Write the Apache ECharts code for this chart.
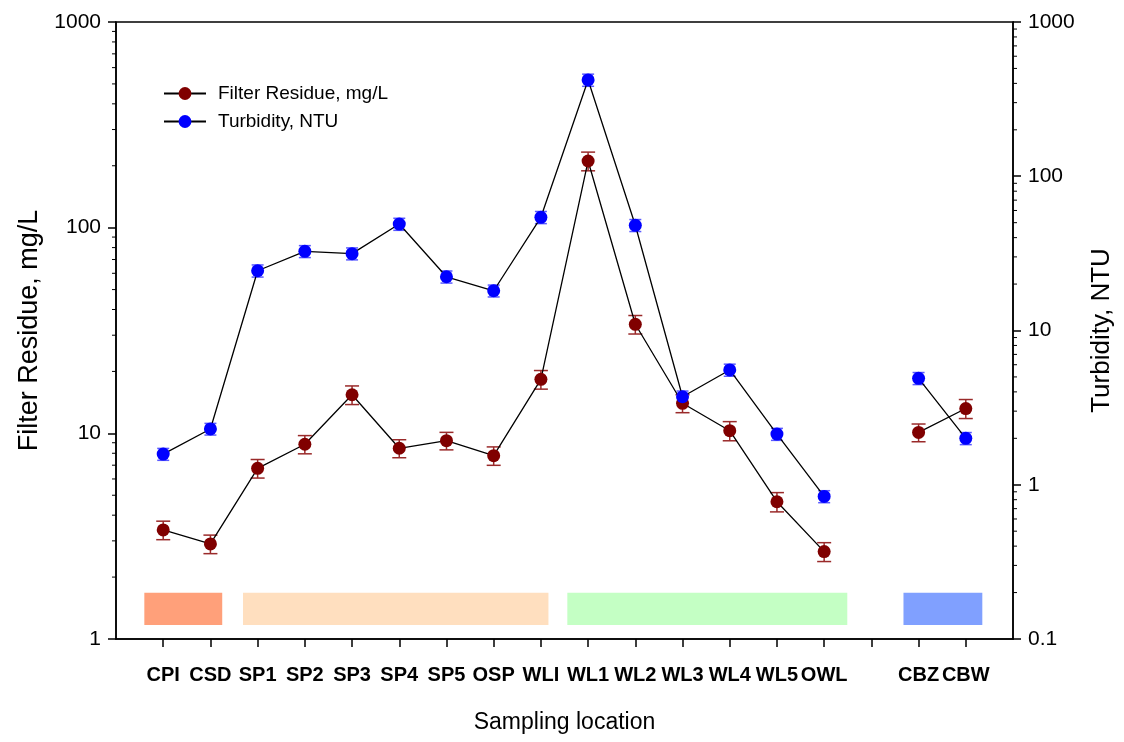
<!DOCTYPE html>
<html>
<head>
<meta charset="utf-8">
<script src="https://cdn.jsdelivr.net/npm/echarts@6/dist/echarts.min.js"></script>
<style>
  html, body { margin: 0; padding: 0; background: #fff; }
  #chart { width: 1124px; height: 742px; }
</style>
</head>
<body>
<div id="chart"></div>
<script>
// Sampling locations (the empty slot separates the stream sites from CBZ/CBW)
const categories = ['CPI', 'CSD', 'SP1', 'SP2', 'SP3', 'SP4', 'SP5', 'OSP', 'WLI',
  'WL1', 'WL2', 'WL3', 'WL4', 'WL5', 'OWL', '', 'CBZ', 'CBW'];

// Filter residue, mg/L (left axis) with error
const filterResidue    = [3.39, 2.90, 6.76, 8.85, 15.4, 8.46, 9.21, 7.79, 18.3, 211, 33.9, 14.0, 10.3, 4.65, 2.66, null, 10.1, 13.2];
const filterResidueErr = [0.35, 0.30, 0.70, 0.90, 1.60, 0.85, 0.90, 0.80, 1.90, 22,  3.5,  1.4,  1.1,  0.50, 0.28, null, 1.0,  1.4];

// Turbidity, NTU (right axis) with error
const turbidity    = [1.58, 2.30, 24.4, 32.6, 31.5, 49.0, 22.3, 18.1, 54.2, 421, 48.1, 3.72, 5.55, 2.13, 0.84, null, 4.90, 2.00];
const turbidityErr = [0.14, 0.20, 2.2,  2.9,  2.8,  4.4,  2.0,  1.6,  4.9,  38,  4.3,  0.33, 0.50, 0.19, 0.075, null, 0.44, 0.18];

// Site groups shown as coloured bands near the bottom (x in slot units, y on the left axis)
const bandFrom   = [-0.40, 1.69, 8.56, 15.68];
const bandTo     = [1.25, 8.16, 14.49, 17.35];
const bandColors = ['#FFA07A', '#FFDFBF', '#C4FFC4', '#80A0FF'];
const bandLow = 1.17;
const bandHigh = 1.68;

// Axis ranges
const leftRange  = [1, 1000];
const rightRange = [0.1, 1000];

const FONT = '"Liberation Sans", Arial, Helvetica, sans-serif';

function minorTicks(lo, hi) {
  const out = [];
  for (let d = lo; d < hi * 0.999; d *= 10) {
    for (let k = 2; k <= 9; k++) out.push(+(d * k).toPrecision(6));
  }
  return out;
}

function errorBars(values, errs, yAxisIndex, color, capHalf) {
  const data = [];
  values.forEach((v, i) => { if (v != null) data.push([i, v - errs[i], v + errs[i]]); });
  return {
    type: 'custom', xAxisIndex: 0, yAxisIndex: yAxisIndex, data: data, z: 2, silent: true,
    encode: { x: 0, y: [1, 2] },
    renderItem: function (params, api) {
      const x = api.value(0);
      const pLo = api.coord([x, api.value(1)]);
      const pHi = api.coord([x, api.value(2)]);
      const style = { stroke: color, lineWidth: 1.5 };
      return {
        type: 'group', children: [
          { type: 'line', shape: { x1: pLo[0], y1: pLo[1], x2: pHi[0], y2: pHi[1] }, style: style },
          { type: 'line', shape: { x1: pLo[0] - capHalf, y1: pLo[1], x2: pLo[0] + capHalf, y2: pLo[1] }, style: style },
          { type: 'line', shape: { x1: pHi[0] - capHalf, y1: pHi[1], x2: pHi[0] + capHalf, y2: pHi[1] }, style: style }
        ]
      };
    }
  };
}

function minorTickSeries(values, yAxisIndex, xEdge, dir) {
  return {
    type: 'custom', xAxisIndex: 0, yAxisIndex: yAxisIndex, silent: true, clip: false, z: 5,
    data: values.map(v => [xEdge, v]),
    renderItem: function (params, api) {
      const c = api.coord([api.value(0), api.value(1)]);
      return { type: 'line', shape: { x1: c[0], y1: c[1], x2: c[0] + dir * 4, y2: c[1] },
        style: { stroke: '#000', lineWidth: 1 } };
    }
  };
}

const bandSeries = {
  type: 'custom', xAxisIndex: 0, yAxisIndex: 0, silent: true, z: 1,
  data: bandFrom.map((f, i) => [f, bandTo[i], bandLow, bandHigh, i]),
  encode: { x: [0, 1], y: [2, 3] },
  renderItem: function (params, api) {
    const p1 = api.coord([api.value(0), api.value(3)]);
    const p2 = api.coord([api.value(1), api.value(2)]);
    return { type: 'rect', shape: { x: p1[0], y: p1[1], width: p2[0] - p1[0], height: p2[1] - p1[1] },
      style: { fill: bandColors[api.value(4)] } };
  }
};

const axisLineStyle = { color: '#000', width: 1.5 };
const xMin = -1, xMax = categories.length;
const plainNumber = v => String(+v.toPrecision(6));

const chart = echarts.init(document.getElementById('chart'), null, { renderer: 'canvas' });
chart.setOption({
  backgroundColor: '#fff',
  animation: false,
  textStyle: { fontFamily: FONT },
  grid: { left: 116, right: 111, top: 22, bottom: 103, show: true, borderColor: '#000', borderWidth: 1.5, backgroundColor: 'transparent' },
  legend: {
    data: ['Filter Residue, mg/L', 'Turbidity, NTU'],
    orient: 'vertical', left: 163, top: 84, padding: 0,
    itemWidth: 42, itemHeight: 16, itemGap: 9,
    textStyle: { fontSize: 19, color: '#000', fontFamily: FONT, padding: [0, 0, 0, 7] }
  },
  xAxis: {
    type: 'value', min: xMin, max: xMax, interval: 1,
    axisLine: { show: true, onZero: false, lineStyle: axisLineStyle },
    axisTick: { show: true, length: 8, customValues: categories.map((c, i) => i), lineStyle: axisLineStyle },
    axisLabel: {
      customValues: categories.map((c, i) => c ? i : null).filter(v => v !== null),
      formatter: v => categories[v] || '',
      margin: 26, fontSize: 20, fontWeight: 'bold', color: '#000', fontFamily: FONT
    },
    splitLine: { show: false },
    name: 'Sampling location', nameLocation: 'middle', nameGap: 72,
    nameTextStyle: { fontSize: 23, color: '#000', fontFamily: FONT }
  },
  yAxis: [
    {
      type: 'log', logBase: 10, min: leftRange[0], max: leftRange[1], position: 'left',
      axisLine: { show: true, onZero: false, lineStyle: axisLineStyle },
      axisTick: { show: true, length: 8, lineStyle: axisLineStyle },
      axisLabel: { fontSize: 21, margin: 15, color: '#000', fontFamily: FONT, formatter: plainNumber },
      splitLine: { show: false },
      name: 'Filter Residue, mg/L', nameLocation: 'middle', nameGap: 62, nameRotate: 90,
      nameTextStyle: { fontSize: 27, color: '#000', fontFamily: FONT }
    },
    {
      type: 'log', logBase: 10, min: rightRange[0], max: rightRange[1], position: 'right',
      axisLine: { show: true, onZero: false, lineStyle: axisLineStyle },
      axisTick: { show: true, length: 8, lineStyle: axisLineStyle },
      axisLabel: { fontSize: 21, margin: 15, color: '#000', fontFamily: FONT, formatter: plainNumber },
      splitLine: { show: false },
      name: 'Turbidity, NTU', nameLocation: 'middle', nameGap: 76, nameRotate: 90,
      nameTextStyle: { fontSize: 26, color: '#000', fontFamily: FONT }
    }
  ],
  series: [
    bandSeries,
    minorTickSeries(minorTicks(leftRange[0], leftRange[1]), 0, xMin, -1),
    minorTickSeries(minorTicks(rightRange[0], rightRange[1]), 1, xMax, 1),
    errorBars(filterResidue, filterResidueErr, 0, '#9A2A2A', 7),
    errorBars(turbidity, turbidityErr, 1, '#5A5AFF', 6),
    {
      name: 'Filter Residue, mg/L', type: 'line', xAxisIndex: 0, yAxisIndex: 0, z: 3,
      data: filterResidue.map((v, i) => [i, v == null ? '-' : v]),
      symbol: 'circle', symbolSize: 13, showSymbol: true,
      lineStyle: { color: '#000', width: 1.3 },
      itemStyle: { color: '#800000' }
    },
    {
      name: 'Turbidity, NTU', type: 'line', xAxisIndex: 0, yAxisIndex: 1, z: 3,
      data: turbidity.map((v, i) => [i, v == null ? '-' : v]),
      symbol: 'circle', symbolSize: 13, showSymbol: true,
      lineStyle: { color: '#000', width: 1.3 },
      itemStyle: { color: '#0000FF' }
    }
  ]
});
</script>
</body>
</html>
